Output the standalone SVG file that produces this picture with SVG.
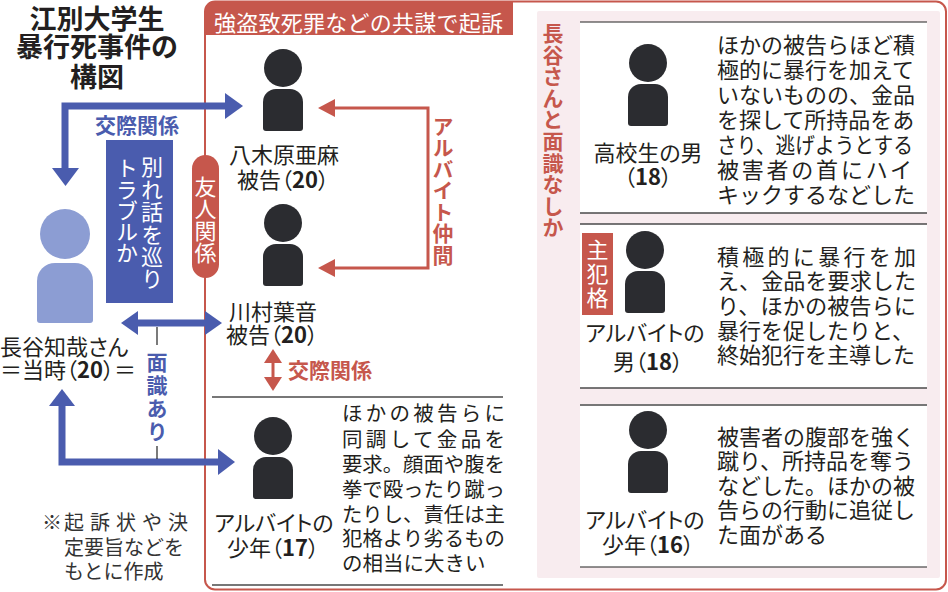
<svg xmlns="http://www.w3.org/2000/svg" width="948" height="592" viewBox="0 0 948 592">
<style>
text{font-family:"Noto Sans CJK JP","Noto Sans",sans-serif;}
.title{font-size:27px;font-weight:700;fill:#231f20;text-anchor:middle;}
.lbl{font-size:22px;fill:#231f20;text-anchor:middle;font-feature-settings:"palt";}
.desc{font-size:22px;fill:#231f20;}
.desc2{font-size:20.5px;fill:#231f20;}
.num{font-weight:700;}
.vert{writing-mode:vertical-rl;}
.vw{font-size:22px;fill:#ffffff;}
.vr{font-size:21px;font-weight:700;fill:#c6574c;}
.vb{font-size:21px;font-weight:700;fill:#4a5cae;}
.blue{stroke:#4a5cae;stroke-width:7;fill:none;}
.bluehead{fill:#4a5cae;}
.red{stroke:#c6574c;stroke-width:3;fill:none;}
.redhead{fill:#c6574c;}
.sep{stroke:#4a4a4a;stroke-width:1.5;}
.icon{fill:#2b2c30;}
</style>
<defs>
<g id="person">
<circle cx="0" cy="0" r="19"/>
<path d="M-20,60 V34 A13,13 0 0 1 -7,21 H7 A13,13 0 0 1 20,34 V60 Q20,63 17,63 H-17 Q-20,63 -20,60 Z"/>
</g>
</defs>

<g id="title">
<text class="title" x="97" y="29">江別大学生</text>
<text class="title" x="97" y="57">暴行死事件の</text>
<text class="title" x="97" y="87">構図</text>
</g>

<g id="frame">
<rect x="205" y="1.5" width="741" height="588" rx="10" fill="none" stroke="#c6574c" stroke-width="2"/>
<path d="M205,35 V11 Q205,2 214,2 H513 V35 Z" fill="#c6574c"/>
<text x="214" y="31" font-size="22" fill="#ffffff" textLength="289">強盗致死罪などの共謀で起訴</text>
<line class="sep" x1="212" y1="397" x2="503" y2="397"/>
<line class="sep" x1="212" y1="585" x2="503" y2="585"/>
</g>

<g id="panel-unknown">
<rect x="537" y="11" width="403" height="567" rx="2" fill="#f8ecef"/>
<text class="vert vr" x="553" y="22.5" letter-spacing="0.6">長谷さんと面識なしか</text>
</g>

<g id="connectors">
<path class="blue" d="M65,170 V106 H226"/>
<polygon class="bluehead" points="52,168 79,168 65.5,186"/>
<polygon class="bluehead" points="225,93 243,106 225,119"/>
<line class="blue" x1="134" y1="323" x2="210" y2="323"/>
<polygon class="bluehead" points="121,323 138,311 138,335"/>
<polygon class="bluehead" points="222,323 205,311 205,335"/>
<path class="blue" d="M62,404 V462 H220"/>
<polygon class="bluehead" points="49,406 75,406 62,389"/>
<polygon class="bluehead" points="218,449 235,462 218,475"/>
<line x1="157" y1="327" x2="157" y2="345" stroke="#222" stroke-width="1.2"/>
<line x1="157" y1="446" x2="157" y2="459" stroke="#222" stroke-width="1.2"/>
<path class="red" d="M332,108 H428 V268 H332"/>
<polygon class="redhead" points="318,108 335,99 335,117"/>
<polygon class="redhead" points="318,268 335,259 335,277"/>
<line class="red" x1="273" y1="360" x2="273" y2="380"/>
<polygon class="redhead" points="273,349 264,363 282,363"/>
<polygon class="redhead" points="273,391 264,377 282,377"/>
</g>

<g id="label-kosai-top">
<text x="95" y="133" font-size="21" font-weight="700" fill="#4a5cae">交際関係</text>
</g>

<g id="label-wakare">
<rect x="106" y="140" width="67" height="163" fill="#4a5cae"/>
<text class="vert vw" x="152" y="156" letter-spacing="0.4">別れ話を巡り</text>
<text class="vert vw" x="127" y="157" letter-spacing="-0.8">トラブルか</text>
</g>

<g id="label-yujin">
<rect x="192" y="155" width="27" height="123" rx="13.5" fill="#c6574c"/>
<text class="vert vw" x="205.5" y="176">友人関係</text>
</g>

<g id="label-arubaito-nakama">
<text class="vert vr" x="443" y="115.5" letter-spacing="0.5">アルバイト仲間</text>
</g>

<g id="label-menshiki">
<text class="vert vb" x="157" y="351.5" letter-spacing="2">面識あり</text>
</g>

<g id="label-kosai-red">
<text x="288" y="378" font-size="21" font-weight="700" fill="#c6574c">交際関係</text>
</g>

<g id="victim">
<circle cx="65" cy="234" r="25" fill="#8c9dd3"/>
<path d="M37,320 V281 A18,18 0 0 1 55,263 H75 A18,18 0 0 1 93,281 V320 Q93,323 90,323 H40 Q37,323 37,320 Z" fill="#8c9dd3"/>
<text x="0" y="355" font-size="22" fill="#231f20" style="font-feature-settings:'palt'">長谷知哉さん</text>
<text x="0" y="378" font-size="22" fill="#231f20" style="font-feature-settings:'palt'">＝当時（<tspan class="num">20</tspan>）＝</text>
</g>

<g id="yagihara">
<use href="#person" x="283" y="68" class="icon"/>
<text class="lbl" x="284" y="163">八木原亜麻</text>
<text class="lbl" x="283" y="188">被告（<tspan class="num">20</tspan>）</text>
</g>

<g id="kawamura">
<use href="#person" x="283" y="223" class="icon"/>
<text class="lbl" x="273" y="320">川村葉音</text>
<text class="lbl" x="272" y="343">被告（<tspan class="num">20</tspan>）</text>
</g>

<g id="boy17">
<use href="#person" x="273" y="436" class="icon"/>
<text class="lbl" x="274" y="531">アルバイトの</text>
<text class="lbl" x="273" y="556">少年（<tspan class="num">17</tspan>）</text>
<text class="desc2" x="342" y="421" textLength="163" lengthAdjust="spacing">ほかの被告らに</text>
<text class="desc2" x="342" y="447" textLength="163" lengthAdjust="spacing">同調して金品を</text>
<text class="desc2" x="342" y="472" textLength="163" lengthAdjust="spacingAndGlyphs">要求。顔面や腹を</text>
<text class="desc2" x="342" y="497" textLength="163" lengthAdjust="spacingAndGlyphs">拳で殴ったり蹴っ</text>
<text class="desc2" x="342" y="522" textLength="163" lengthAdjust="spacingAndGlyphs">たりし、責任は主</text>
<text class="desc2" x="342" y="546" textLength="163" lengthAdjust="spacingAndGlyphs">犯格より劣るもの</text>
<text class="desc2" x="342" y="571">の相当に大きい</text>
</g>

<g id="box-highschool">
<rect x="580" y="22" width="347" height="191" fill="#ffffff"/>
<line x1="580" y1="22" x2="927" y2="22" stroke="#222" stroke-width="1.2"/>
<line class="sep" x1="580" y1="213" x2="927" y2="213"/>
<use href="#person" x="648" y="63" class="icon"/>
<text class="lbl" x="648" y="161">高校生の男</text>
<text class="lbl" x="648" y="185">（<tspan class="num">18</tspan>）</text>
<text class="desc" x="717" y="53">ほかの被告らほど積</text>
<text class="desc" x="717" y="78">極的に暴行を加えて</text>
<text class="desc" x="717" y="103" textLength="198" lengthAdjust="spacingAndGlyphs">いないものの、金品</text>
<text class="desc" x="717" y="128">を探して所持品をあ</text>
<text class="desc" x="717" y="153" textLength="196" lengthAdjust="spacingAndGlyphs">さり、逃げようとする</text>
<text class="desc" x="717" y="178" textLength="195" lengthAdjust="spacing">被害者の首にハイ</text>
<text class="desc" x="717" y="203">キックするなどした</text>
</g>

<g id="box-leader">
<rect x="580" y="224" width="347" height="164" fill="#ffffff"/>
<line class="sep" x1="580" y1="224" x2="927" y2="224"/>
<line class="sep" x1="580" y1="388" x2="927" y2="388"/>
<rect x="582" y="233" width="31" height="82" fill="#c6574c"/>
<text class="vert vw" x="597.5" y="239" letter-spacing="2">主犯格</text>
<use href="#person" x="645" y="250" class="icon"/>
<text class="lbl" x="645" y="341">アルバイトの</text>
<text class="lbl" x="648" y="370">男（<tspan class="num">18</tspan>）</text>
<text class="desc" x="717" y="265" textLength="199" lengthAdjust="spacing">積極的に暴行を加</text>
<text class="desc" x="717" y="289" textLength="199" lengthAdjust="spacingAndGlyphs">え、金品を要求した</text>
<text class="desc" x="717" y="314" textLength="199" lengthAdjust="spacingAndGlyphs">り、ほかの被告らに</text>
<text class="desc" x="717" y="339">暴行を促したりと、</text>
<text class="desc" x="717" y="363">終始犯行を主導した</text>
</g>

<g id="box-boy16">
<rect x="580" y="405" width="347" height="162" fill="#ffffff"/>
<line x1="580" y1="405" x2="927" y2="405" stroke="#777" stroke-width="2"/>
<line x1="580" y1="567" x2="927" y2="567" stroke="#222" stroke-width="1.2"/>
<use href="#person" x="648" y="430" class="icon"/>
<text class="lbl" x="645" y="528">アルバイトの</text>
<text class="lbl" x="648" y="553">少年（<tspan class="num">16</tspan>）</text>
<text class="desc" x="717" y="445">被害者の腹部を強く</text>
<text class="desc" x="717" y="469">蹴り、所持品を奪う</text>
<text class="desc" x="717" y="494">などした。ほかの被</text>
<text class="desc" x="717" y="518">告らの行動に追従し</text>
<text class="desc" x="717" y="543">た面がある</text>
</g>

<g id="note">
<text x="42" y="530" font-size="20" fill="#333">※</text>
<text x="64" y="530" font-size="20" fill="#333" textLength="124" lengthAdjust="spacing">起訴状や決</text>
<text x="64" y="555" font-size="20" fill="#333">定要旨などを</text>
<text x="64" y="579" font-size="20" fill="#333">もとに作成</text>
</g>
</svg>
